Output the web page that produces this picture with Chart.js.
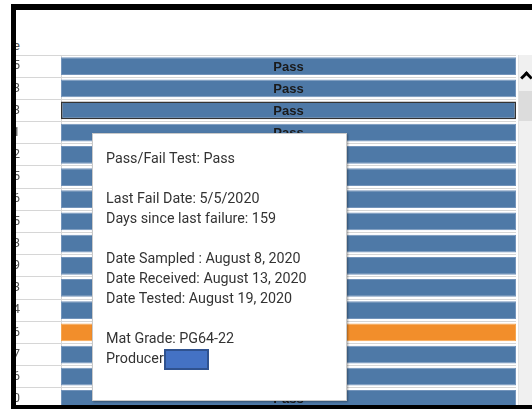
<!DOCTYPE html>
<html>
<head>
<meta charset="utf-8">
<script src="https://cdn.jsdelivr.net/npm/chart.js@4.4.0/dist/chart.umd.min.js"></script>
<style>
    body { margin: 0; width: 532px; height: 409px; overflow: hidden; background: #fff; position: relative; font-family: Roboto, sans-serif; }
    .frame { position: absolute; background: #000; }
    #view { position: absolute; left: 16px; top: 10px; width: 502px; height: 395px; overflow: hidden; background: #fff; }
    #chart { position: absolute; left: -35px; top: 45px; }
    #colHeader { position: absolute; right: 498px; top: 28px; font-size: 13px; color: #555; white-space: nowrap; }
    #scrollTrack { position: absolute; left: 518px; top: 55px; width: 14px; height: 350px; background: #f0f0f0; border-left: 1px solid #e2e2e2; }
    #scrollThumb { position: absolute; left: 519px; top: 91px; width: 13px; height: 30px; background: #dcdcdc; }
    #scrollArrow { position: absolute; left: 522px; top: 73px; width: 6px; height: 6px; border-left: 3px solid #000; border-top: 3px solid #000; transform: rotate(45deg); }
    #tip { position: absolute; left: 92px; top: 133px; width: 255px; height: 268px; box-sizing: border-box; background: #fff; border: 1px solid #c9c9c9; box-shadow: 1px 1px 2px rgba(0,0,0,0.35); padding: 14px 0 0 13px; font-size: 14.3px; line-height: 20px; color: #333; }
    #tip div { height: 20px; white-space: nowrap; }
    .redact { display: inline-block; width: 45px; height: 21px; box-sizing: border-box; background: #4472c4; border: 2px solid #2f528f; vertical-align: middle; margin-left: 0; }
</style>
</head>
<body>
<div id="view">
    <div id="colHeader">Sample</div>
    <canvas id="chart" width="535" height="355"></canvas>
</div>
<div id="scrollTrack"></div>
<div id="scrollThumb"></div>
<div id="scrollArrow"></div>
<div class="frame" style="left:11px; top:4px; width:521px; height:6px;"></div>
<div class="frame" style="left:11px; top:4px; width:5px; height:405px;"></div>
<div class="frame" style="left:11px; top:405px; width:521px; height:4px;"></div>
<div id="tip"></div>

<script>
// Data
const sampleIds = ['20-0415', '20-0423', '20-0503', '20-0511', '20-0522', '20-0605', '20-0616', '20-0625',
    '20-0703', '20-0709', '20-0713', '20-0724', '20-0726', '20-0807', '20-0816', '20-0820'];
const testResults = ['Pass', 'Pass', 'Pass', 'Pass', 'Pass', 'Pass', 'Pass', 'Pass',
    'Pass', 'Pass', 'Pass', 'Pass', 'Pass', 'Pass', 'Pass', 'Pass'];
const barValues = [1, 1, 1, 1, 1, 1, 1, 1, 1, 1, 1, 1, 1, 1, 1, 1];
const selectedIndex = 2;
const highlightIndex = 12;

const tooltipLines = [
    'Pass/Fail Test: Pass',
    '',
    'Last Fail Date: 5/5/2020',
    'Days since last failure: 159',
    '',
    'Date Sampled : August 8, 2020',
    'Date Received: August 13, 2020',
    'Date Tested: August 19, 2020',
    '',
    'Mat Grade: PG64-22',
    'Producer'
];

// Tooltip box
const tip = document.getElementById('tip');
tooltipLines.forEach((line, i) => {
    const row = document.createElement('div');
    row.textContent = line;
    if (i === tooltipLines.length - 1) {
        const box = document.createElement('span');
        box.className = 'redact';
        row.appendChild(box);
    }
    tip.appendChild(row);
});

// "Pass" text inside each bar
const passLabels = {
    id: 'passLabels',
    afterDatasetsDraw(chart) {
        const ctx = chart.ctx;
        const meta = chart.getDatasetMeta(0);
        ctx.save();
        ctx.font = 'bold 13px "Liberation Sans", Arial, sans-serif';
        ctx.fillStyle = '#1a1a1a';
        ctx.textAlign = 'center';
        ctx.textBaseline = 'middle';
        meta.data.forEach((bar, i) => {
            ctx.fillText(testResults[i], (bar.x + bar.base) / 2, bar.y + 1);
        });
        ctx.restore();
    }
};

new Chart(document.getElementById('chart'), {
    type: 'bar',
    data: {
        labels: sampleIds,
        datasets: [{
            data: barValues,
            backgroundColor: c => c.dataIndex === highlightIndex ? '#f28e2b' : '#4e79a7',
            borderColor: c => c.dataIndex === selectedIndex ? '#333333' : (c.dataIndex === highlightIndex ? '#f5a54f' : '#7394bb'),
            borderWidth: c => c.dataIndex === selectedIndex ? 1.5 : 1,
            borderSkipped: false,
            barPercentage: 1,
            categoryPercentage: 0.8
        }]
    },
    options: {
        indexAxis: 'y',
        responsive: false,
        animation: false,
        layout: { padding: 0 },
        plugins: {
            legend: { display: false },
            tooltip: { enabled: false }
        },
        scales: {
            x: { display: false, min: 0, max: 1 },
            y: {
                afterFit: s => {
                    s.width = 80;
                    s.paddingTop = 0;
                    s.paddingBottom = 0;
                },
                grid: { offset: true, drawTicks: true, tickLength: 45, color: '#d6d6d6', lineWidth: 1 },
                border: { display: true, color: '#d6d6d6' },
                ticks: { padding: -4, autoSkip: false, color: '#555', font: { family: 'Roboto', size: 13 } }
            }
        }
    },
    plugins: [passLabels]
});
</script>
</body>
</html>
